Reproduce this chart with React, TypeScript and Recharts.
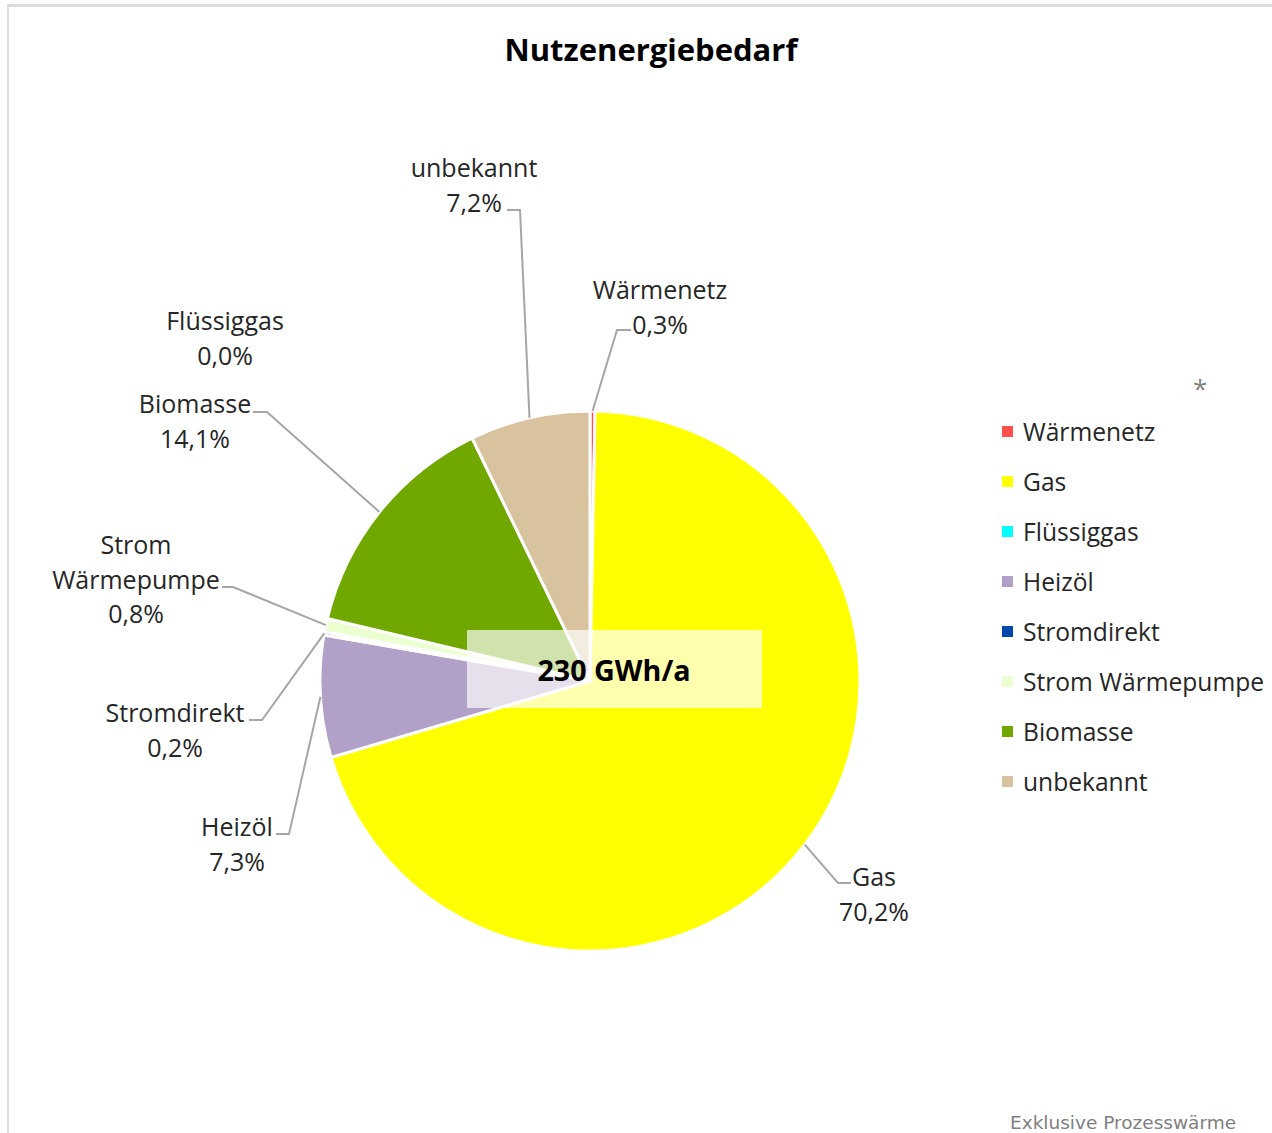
import React from 'react';
import { PieChart, Pie, Cell, Legend } from 'recharts';

// ─── Data ────────────────────────────────────────────────────────────────────

const categories = ['Wärmenetz', 'Gas', 'Flüssiggas', 'Heizöl', 'Stromdirekt', 'Strom Wärmepumpe', 'Biomasse', 'unbekannt'];
const shares = [0.3, 70.2, 0.0, 7.3, 0.2, 0.8, 14.1, 7.2];
const colors = ['#ff5050', '#ffff00', '#00ffff', '#b1a0c7', '#0047ab', '#ebffd0', '#70a800', '#d8c39e'];
const title = 'Nutzenergiebedarf';
const totalLabel = '230 GWh/a';
const footnote = 'Exklusive Prozesswärme';

// label text block placement (first line centre) and leader elbow/end points
const labelLayout: Record<string, { x: number; y: number; lines: string[]; elbow?: [number, number]; end?: [number, number] }> = {
  'Wärmenetz': { x: 660, y: 289, lines: ['Wärmenetz'], elbow: [617, 330], end: [631, 330] },
  'Gas': { x: 874, y: 876, lines: ['Gas'], elbow: [838, 883], end: [851, 883] },
  'Flüssiggas': { x: 225, y: 320, lines: ['Flüssiggas'] },
  'Heizöl': { x: 237, y: 826, lines: ['Heizöl'], elbow: [289, 834], end: [276, 834] },
  'Stromdirekt': { x: 175, y: 712, lines: ['Stromdirekt'], elbow: [262, 720], end: [249, 720] },
  'Strom Wärmepumpe': { x: 136, y: 544, lines: ['Strom', 'Wärmepumpe'], elbow: [233, 587], end: [222, 587] },
  'Biomasse': { x: 195, y: 403, lines: ['Biomasse'], elbow: [267, 412], end: [253, 412] },
  'unbekannt': { x: 474, y: 167, lines: ['unbekannt'], elbow: [520, 210], end: [507, 210] },
};

const data = categories.map((name, i) => ({ name, value: shares[i], fill: colors[i] }));

const FONT = '"Open Sans", "Noto Sans", sans-serif';
const RAD = Math.PI / 180;
const fmtPct = (v: number) => `${v.toFixed(1).replace('.', ',')}%`;

// ─── Labels ──────────────────────────────────────────────────────────────────

function renderLabel(props: any) {
  const { cx, cy, midAngle, outerRadius, name, value } = props;
  const lay = labelLayout[name];
  if (!lay) return null;
  const sx = cx + outerRadius * Math.cos(-midAngle * RAD);
  const sy = cy + outerRadius * Math.sin(-midAngle * RAD);
  const lines = [...lay.lines, fmtPct(value)];
  return (
    <g key={`lbl-${name}`}>
      {lay.elbow && lay.end && (
        <polyline
          points={`${sx},${sy} ${lay.elbow[0]},${lay.elbow[1]} ${lay.end[0]},${lay.end[1]}`}
          fill="none" stroke="#a6a6a6" strokeWidth={2}
        />
      )}
      {lines.map((t, i) => (
        <text
          key={i} x={lay.x} y={lay.y + i * 34.5}
          textAnchor="middle" dominantBaseline="central"
          fontFamily={FONT} fontSize={25} fill="#262626"
        >
          {t}
        </text>
      ))}
    </g>
  );
}

// ─── Legend ──────────────────────────────────────────────────────────────────

function renderLegend() {
  return (
    <div style={{ fontFamily: FONT, fontSize: 24.6, color: '#262626' }}>
      {categories.map((c, i) => (
        <div key={c} style={{ display: 'flex', alignItems: 'center', height: 49.9 }}>
          <span style={{ width: 11, height: 11, background: colors[i], marginRight: 10, display: 'inline-block' }} />
          <span>{c}</span>
        </div>
      ))}
    </div>
  );
}

export default function App() {
  return (
    <div style={{ position: 'absolute', left: 0, top: 0, width: 1272, height: 1133, background: '#fff', overflow: 'hidden' }}>
      <div style={{ position: 'absolute', left: 7, top: 4, width: 1280, height: 1150, borderTop: '3px solid #dcdcdc', borderLeft: '2px solid #dcdcdc' }} />
      <div style={{ position: 'absolute', left: 0, top: 28, width: 1302, textAlign: 'center', fontFamily: FONT, fontWeight: 700, fontSize: 31, color: '#000' }}>
        {title}
      </div>
      <PieChart width={1272} height={1133} margin={{ top: 0, right: 0, bottom: 0, left: 0 }} style={{ position: 'absolute', left: 0, top: 0 }}>
        <Pie
          data={data}
          dataKey="value" nameKey="name"
          cx={590} cy={681}
          outerRadius={270}
          startAngle={90} endAngle={-270}
          stroke="#fff" strokeWidth={3}
          label={renderLabel} labelLine={false}
          isAnimationActive={false}
        >
          {data.map((d, i) => (
            <Cell key={i} fill={colors[i]} />
          ))}
        </Pie>
        <Legend
          layout="vertical"
          content={renderLegend}
          wrapperStyle={{ position: 'absolute', left: 1002, top: 407, width: 270 }}
        />
      </PieChart>
      <div style={{
        position: 'absolute', left: 467, top: 630, width: 295, height: 78,
        background: 'rgba(255,255,255,0.68)', display: 'flex', alignItems: 'center', justifyContent: 'center',
        fontFamily: FONT, fontWeight: 700, fontSize: 28.7, color: '#000',
      }}>
        <span style={{ marginLeft: -1 }}>{totalLabel}</span>
      </div>
      <div style={{ position: 'absolute', left: 1193, top: 370, fontFamily: FONT, fontSize: 26, color: '#7f7f7f' }}>*</div>
      <div style={{ position: 'absolute', left: 1010, top: 1112, fontFamily: '"DejaVu Sans", Verdana, sans-serif', fontSize: 18.5, color: '#808080' }}>
        {footnote}
      </div>
    </div>
  );
}
